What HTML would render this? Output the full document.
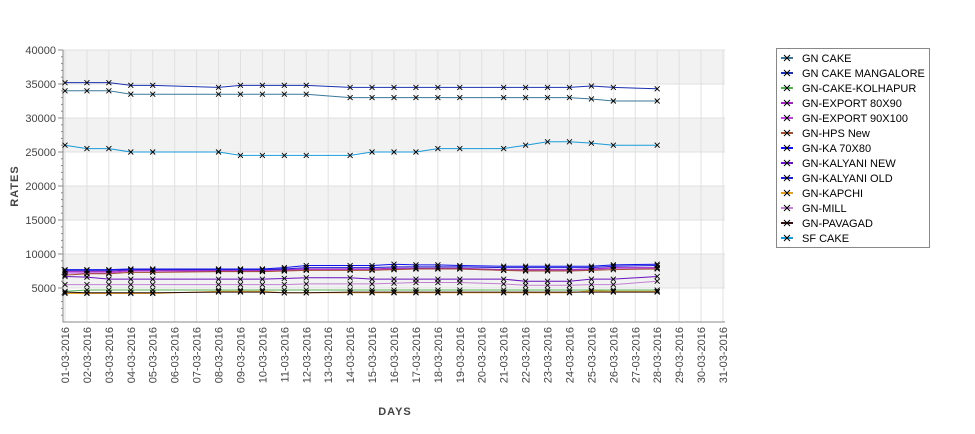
<!DOCTYPE html>
<html><head><meta charset="utf-8"><style>
body{margin:0;background:#fff;font-family:"Liberation Sans",sans-serif;}
svg text{font-family:"Liberation Sans","DejaVu Sans",sans-serif;}
</style></head><body>
<svg id="c" width="975" height="429" xmlns="http://www.w3.org/2000/svg"></svg>
<script>
const dayLabels=[];for(let d=1;d<=31;d++)dayLabels.push((d<10?'0':'')+d+'-03-2016');
const dataDays=[1,2,3,4,5,8,9,10,11,12,14,15,16,17,18,19,21,22,23,24,25,26,28];
const yTicks=[5000,10000,15000,20000,25000,30000,35000,40000];
const seriesNames=["GN CAKE","GN CAKE MANGALORE","GN-CAKE-KOLHAPUR","GN-EXPORT 80X90","GN-EXPORT 90X100","GN-HPS New","GN-KA 70X80","GN-KALYANI NEW","GN-KALYANI OLD","GN-KAPCHI","GN-MILL","GN-PAVAGAD","SF CAKE"];
const seriesColors=["#3a7898","#1a30b0","#50b050","#a020c0","#c040e0","#a05030","#1010f0","#6a10c0","#2020d0","#e0a020","#c080d0","#301010","#1a9ad8"];
const sGnCake=[34000,34000,34000,33500,33500,33500,33500,33500,33500,33500,33000,33000,33000,33000,33000,33000,33000,33000,33000,33000,32800,32500,32500];
const sMangalore=[35200,35200,35200,34800,34800,34500,34800,34800,34800,34800,34500,34500,34500,34500,34500,34500,34500,34500,34500,34500,34700,34500,34300];
const sKolhapur=[4500,4700,4700,4700,4700,4700,4700,4700,4700,4700,4700,4700,4700,4700,4700,4700,4700,4700,4700,4700,4700,4700,4700];
const sExp80=[7400,7400,7400,7600,7600,7600,7600,7600,7700,7800,7800,7800,7900,7900,7900,7900,7700,7700,7700,7700,7800,8000,8000];
const sExp90=[7200,7200,7200,7500,7500,7500,7500,7500,7600,7700,7700,7700,7800,7800,7800,7800,7600,7600,7600,7600,7700,7900,7900];
const sHps=[6900,7100,7100,7300,7300,7400,7400,7400,7500,7600,7600,7600,7700,7800,7800,7800,7600,7500,7500,7500,7600,7700,7800];
const sKa=[7700,7700,7700,7800,7800,7800,7800,7800,8000,8300,8300,8300,8500,8400,8400,8300,8200,8200,8200,8200,8200,8400,8500];
const sKalNew=[6700,6600,6300,6300,6300,6300,6300,6300,6400,6500,6500,6300,6300,6300,6300,6300,6300,6000,6000,6000,6300,6300,6700];
const sKalOld=[7600,7600,7600,7700,7700,7700,7700,7700,7800,8000,8000,8000,8100,8100,8100,8100,8000,8000,8000,8000,8000,8200,8300];
const sKapchi=[4200,4200,4200,4200,4200,4500,4500,4500,4300,4300,4300,4300,4300,4300,4300,4300,4300,4300,4300,4300,4600,4500,4500];
const sMill=[5500,5500,5500,5500,5500,5500,5500,5500,5500,5600,5600,5600,5700,5800,5800,5800,5600,5400,5400,5400,5500,5500,6000];
const sPavagad=[4400,4300,4300,4300,4300,4400,4400,4400,4300,4300,4400,4400,4400,4400,4400,4400,4400,4400,4400,4400,4400,4400,4400];
const sSf=[26000,25500,25500,25000,25000,25000,24500,24500,24500,24500,24500,25000,25000,25000,25500,25500,25500,26000,26500,26500,26300,26000,26000];
const allSeries=[sGnCake,sMangalore,sKolhapur,sExp80,sExp90,sHps,sKa,sKalNew,sKalOld,sKapchi,sMill,sPavagad,sSf];

const NS="http://www.w3.org/2000/svg",svg=document.getElementById('c');
const L=63,R=725,T=50,B=322;
const xS=d=>65+(d-1)*(723-65)/30;
const yS=v=>B-(v/40000)*(B-T);
function mk(tag,attrs,parent){const e=document.createElementNS(NS,tag);for(const k in attrs)e.setAttribute(k,attrs[k]);(parent||svg).appendChild(e);return e;}
for(let v=5000;v<40000;v+=10000){
 const b=mk('rect',{x:L,y:yS(v+5000),width:R-L,height:yS(v)-yS(v+5000),fill:'#f2f2f2'});
 
 
}
dayLabels.forEach((lab,i)=>{
 const g=mk('line',{x1:xS(i+1),x2:xS(i+1),y1:T,y2:B,stroke:'#e0e0e0','stroke-width':1});
 
 
 const t=mk('text',{x:0,y:0,'font-size':11,fill:'#444','text-anchor':'end',transform:`translate(${xS(i+1)+4},327) rotate(-90)`});
 t.textContent=lab;
 
 
});
yTicks.forEach(v=>{
 const g=mk('line',{x1:L,x2:R,y1:yS(v),y2:yS(v),stroke:'#e0e0e0'});
 
 
 const t=mk('text',{x:56,y:yS(v)+4,'font-size':11,fill:'#444','text-anchor':'end'});
 t.textContent=v;
 
 
 mk('line',{x1:58,x2:L,y1:yS(v),y2:yS(v),stroke:'#888'});
});
for(let v=1000;v<40000;v+=1000){mk('line',{x1:61,x2:L,y1:yS(v),y2:yS(v),stroke:'#888'});}
const ax=mk('path',{d:`M${L},${T}V${B}H${R}`,fill:'none',stroke:'#888'});


allSeries.forEach((s,si)=>{
 const g=mk('g',{});
 
 
 mk('polyline',{points:s.map((v,i)=>xS(dataDays[i])+','+yS(v)).join(' '),fill:'none',stroke:seriesColors[si],'stroke-width':1},g);
 s.forEach((v,i)=>{const x=xS(dataDays[i]),y=yS(v);
  const p=mk('path',{d:`M${x-2.5},${y-2.5}L${x+2.5},${y+2.5}M${x-2.5},${y+2.5}L${x+2.5},${y-2.5}`,stroke:'#000','stroke-width':0.9},g);
  
  
 });
});
const yt=mk('text',{x:0,y:0,'font-size':11,'font-weight':'bold',fill:'#444','text-anchor':'middle','letter-spacing':'1',transform:'translate(18,186) rotate(-90)'});
yt.textContent='RATES';


const xt=mk('text',{x:395,y:415,'font-size':11,'font-weight':'bold',fill:'#444','text-anchor':'middle','letter-spacing':'1'});
xt.textContent='DAYS';


const lg=mk('g',{});


mk('rect',{x:776.5,y:48.5,width:153,height:199,fill:'#fff',stroke:'#888'},lg);
seriesNames.forEach((n,i)=>{const y=58+i*15;
 const e=mk('g',{},lg);
 
 
 mk('line',{x1:781,x2:793,y1:y,y2:y,stroke:seriesColors[i],'stroke-width':2},e);
 mk('path',{d:`M784,${y-3}L790,${y+3}M784,${y+3}L790,${y-3}`,stroke:'#000'},e);
 const t=mk('text',{x:802,y:y+4,'font-size':11,fill:'#000'},e);t.textContent=n;
});
</script>
</body></html>
